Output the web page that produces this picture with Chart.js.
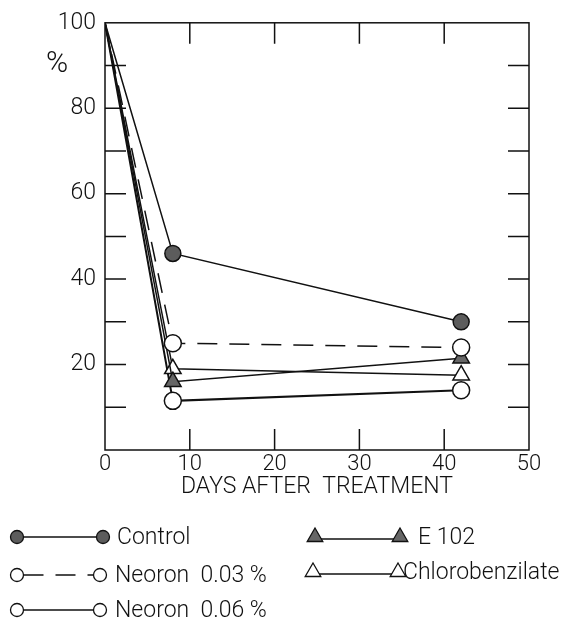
<!DOCTYPE html>
<html>
<head>
<meta charset="utf-8">
<script src="https://cdn.jsdelivr.net/npm/chart.js@4.4.1/dist/chart.umd.min.js"></script>
<style>
  html, body { margin: 0; padding: 0; background: #fff; }
  #wrap { width: 561px; height: 636px; }
</style>
</head>
<body>
<div id="wrap"><canvas id="chart" width="561" height="636"></canvas></div>
<script>
// days after treatment and % remaining
const days = [0, 8, 42];
const control = [100, 46, 30];
const neoron003 = [100, 25, 24];
const e102 = [100, 16, 21.5];
const chloro = [100, 19, 17.5];
const neoron006 = [100, 11.5, 14];

const xTicks = [0, 10, 20, 30, 40, 50];
const yTicks = [20, 40, 60, 80, 100];
const xMinor = [10, 20, 30, 40];
const yMinor = [10, 20, 30, 40, 50, 60, 70, 80, 90];

const FONT = 'Roboto, "DejaVu Sans Condensed", sans-serif';
const INK = '#111';

function pts(values) {
  return values.map((v, i) => ({ x: days[i], y: v }));
}

function series(label, values, style) {
  return Object.assign({
    label,
    data: pts(values),
    borderColor: INK,
    borderWidth: 1.5,
    pointBorderColor: INK,
    pointBorderWidth: 1.5,
    pointBackgroundColor: '#fff',
    pointStyle: 'circle',
    pointRadius: [0, 8.5, 8.5],
    pointHoverRadius: [0, 8.5, 8.5],
    tension: 0
  }, style);
}

const datasets = [
  series('Control', control, { pointBackgroundColor: '#5c5c5c', pointRadius: [0, 8, 8] }),
  series('Neoron  0.03 %', neoron003, { borderDash: [20, 12] }),
  series('E 102', e102, { pointStyle: 'triangle', pointBackgroundColor: '#666', pointRadius: [0, 9.5, 9.5] }),
  series('Chlorobenzilate', chloro, { pointStyle: 'triangle', pointRadius: [0, 9.5, 9.5] }),
  series('Neoron  0.06 %', neoron006, { borderWidth: 2 })
];

// where each legend entry sits under the plot
const legendSlots = [
  { ds: 0, x1: 17, x2: 103, y: 537, tx: 117 },
  { ds: 1, x1: 17, x2: 100, y: 575, tx: 115 },
  { ds: 4, x1: 17, x2: 100, y: 610, tx: 115 },
  { ds: 2, x1: 315, x2: 400, y: 537, tx: 418 },
  { ds: 3, x1: 313, x2: 398, y: 572, tx: 403 }
];

const framePlugin = {
  id: 'frame',
  beforeDatasetsDraw(chart) {
    const { ctx, chartArea: a, scales } = chart;
    ctx.save();
    ctx.strokeStyle = INK;
    ctx.lineWidth = 1.5;
    ctx.strokeRect(a.left, a.top, a.right - a.left, a.bottom - a.top);
    ctx.beginPath();
    xMinor.forEach(v => {
      const x = scales.x.getPixelForValue(v);
      ctx.moveTo(x, a.bottom); ctx.lineTo(x, a.bottom - 21);
      ctx.moveTo(x, a.top); ctx.lineTo(x, a.top + 21);
    });
    yMinor.forEach(v => {
      const y = scales.y.getPixelForValue(v);
      ctx.moveTo(a.left, y); ctx.lineTo(a.left + 21, y);
      ctx.moveTo(a.right, y); ctx.lineTo(a.right - 21, y);
    });
    ctx.stroke();
    ctx.restore();
  },
  afterDraw(chart) {
    const { ctx } = chart;
    ctx.save();
    ctx.fillStyle = INK;
    ctx.textBaseline = 'middle';
    ctx.textAlign = 'center';
    ctx.font = '300 30px ' + FONT;
    ctx.fillText('%', 57, 64);

    ctx.textAlign = 'left';
    ctx.font = '300 23px ' + FONT;
    legendSlots.forEach(s => {
      const d = chart.data.datasets[s.ds];
      const tri = d.pointStyle === 'triangle';
      const r = tri ? 9 : 6.5;
      const ly = s.y + (tri ? 2 : 0);
      ctx.strokeStyle = INK;
      ctx.lineWidth = 1.3;
      ctx.setLineDash(d.borderDash || []);
      ctx.beginPath();
      ctx.moveTo(s.x1 + (tri ? 5 : r), ly);
      ctx.lineTo(s.x2 - (tri ? 5 : r), ly);
      ctx.stroke();
      ctx.setLineDash([]);
      [s.x1, s.x2].forEach(x => {
        ctx.fillStyle = d.pointBackgroundColor;
        ctx.strokeStyle = INK;
        Chart.helpers.drawPoint(ctx, { pointStyle: d.pointStyle, radius: r, rotation: 0, borderWidth: 1.3 }, x, s.y);
      });
      ctx.fillStyle = INK;
      ctx.fillText(d.label, s.tx, s.y + 1);
    });
    ctx.restore();
  }
};

new Chart(document.getElementById('chart'), {
  type: 'line',
  data: { datasets },
  plugins: [framePlugin],
  options: {
    responsive: false,
    animation: false,
    events: [],
    layout: { padding: { left: 0, top: 22, right: 32, bottom: 134 } },
    plugins: { legend: { display: false }, tooltip: { enabled: false } },
    scales: {
      x: {
        type: 'linear',
        min: 0,
        max: 50,
        afterBuildTicks: s => { s.ticks = xTicks.map(v => ({ value: v })); },
        afterFit: s => { s.height = 52; },
        grid: { display: false, drawTicks: false },
        border: { display: false },
        ticks: { color: INK, padding: 1, maxRotation: 0, autoSkip: false, font: { family: FONT, size: 22, weight: 300 } },
        title: {
          display: true,
          text: 'DAYS AFTER  TREATMENT',
          color: INK,
          font: { family: FONT, size: 23, weight: 300 },
          padding: { top: 0, bottom: 1 }
        }
      },
      y: {
        min: 0,
        max: 100,
        afterBuildTicks: s => { s.ticks = yTicks.map(v => ({ value: v })); },
        afterFit: s => { s.width = 105; },
        grid: { display: false, drawTicks: false },
        border: { display: false },
        ticks: { color: INK, padding: 9, font: { family: FONT, size: 23, weight: 300 } }
      }
    }
  }
});
</script>
</body>
</html>
